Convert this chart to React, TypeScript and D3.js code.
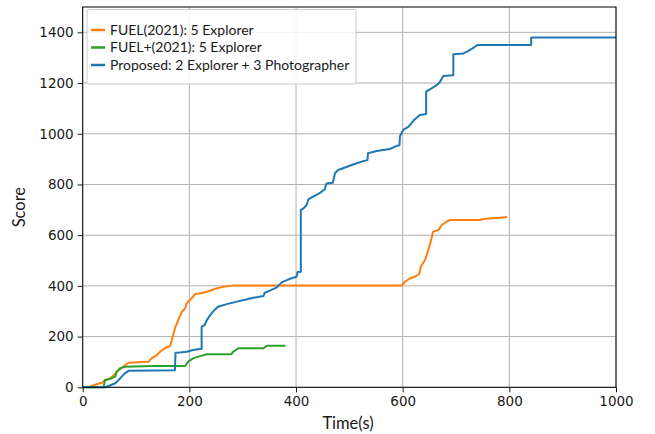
import React, { useEffect, useRef } from 'react'
import * as d3 from 'd3'

// [time(s), score]
const fuelData: [number, number][] = [
  [0, 0], [14, 3], [26, 12], [36, 18], [42, 29], [51, 35], [57, 45], [64, 62], [70, 71], [76, 81],
  [86, 97], [123, 101], [129, 114], [139, 127], [145, 140], [154, 154], [164, 163], [167, 186],
  [173, 233], [179, 265], [186, 298], [192, 311], [195, 331], [204, 351], [211, 368], [226, 373],
  [239, 381], [251, 390], [264, 397], [282, 402], [599, 402], [604, 416], [614, 430], [623, 436],
  [631, 447], [634, 476], [642, 502], [648, 541], [654, 587], [657, 614], [667, 620], [673, 640],
  [682, 653], [689, 660], [745, 660], [751, 664], [782, 669], [796, 672],
]
const fuelPlusData: [number, number][] = [
  [0, 0], [39, 0], [42, 29], [54, 35], [61, 42], [64, 62], [70, 75], [79, 81], [132, 84], [192, 84],
  [198, 101], [207, 114], [220, 123], [233, 130], [279, 130], [282, 140], [292, 154], [339, 154],
  [345, 164], [380, 164],
]
const proposedData: [number, number][] = [
  [0, 0], [42, 0], [51, 7], [61, 16], [70, 35], [79, 55], [86, 65], [173, 67], [174, 136], [182, 137],
  [195, 140], [207, 147], [223, 152], [223, 239], [229, 246], [232, 262], [239, 285], [248, 307],
  [254, 318], [270, 328], [289, 338], [304, 345], [320, 353], [339, 360], [341, 372], [354, 384],
  [364, 394], [373, 414], [383, 423], [389, 428], [401, 436], [403, 455], [409, 456], [409, 699],
  [414, 706], [420, 719], [423, 741], [432, 752], [445, 767], [454, 781], [457, 804], [469, 807],
  [473, 844], [479, 857], [492, 867], [507, 879], [526, 892], [534, 896], [535, 923], [551, 932],
  [576, 940], [589, 952], [594, 955], [595, 991], [601, 1015], [611, 1028], [620, 1051], [632, 1074],
  [644, 1078], [644, 1166], [654, 1179], [664, 1192], [670, 1205], [676, 1228], [695, 1231],
  [695, 1314], [714, 1317], [723, 1327], [731, 1337], [740, 1350], [841, 1350], [841, 1380],
  [1000, 1380],
]

const seriesNames = ['FUEL(2021): 5 Explorer', 'FUEL+(2021): 5 Explorer', 'Proposed: 2 Explorer + 3 Photographer']
const seriesColors = ['#ff7f0e', '#2ca02c', '#1f77b4']
const xTicks = [0, 200, 400, 600, 800, 1000]
const yTicks = [0, 200, 400, 600, 800, 1000, 1200, 1400]

export default function App() {
  const ref = useRef<SVGSVGElement>(null)

  useEffect(() => {
    const svg = d3.select(ref.current)
    svg.selectAll('*').remove()

    const left = 82.7, right = 616, top = 7, bottom = 387.3
    const x = d3.scaleLinear().domain([0, 1000]).range([left, right])
    const y = d3.scaleLinear().domain([0, 1500]).range([bottom, top])

    // grid
    const grid = svg.append('g')
    grid.selectAll('.gx').data(xTicks).enter().append('line')
      .attr('x1', d => x(d)).attr('x2', d => x(d))
      .attr('y1', top).attr('y2', bottom)
      .attr('stroke', '#b0b0b0').attr('stroke-width', 1)
    grid.selectAll('.gy').data(yTicks).enter().append('line')
      .attr('x1', left).attr('x2', right)
      .attr('y1', d => y(d)).attr('y2', d => y(d))
      .attr('stroke', '#b0b0b0').attr('stroke-width', 1)

    // lines
    const line = d3.line<[number, number]>().x(d => x(d[0])).y(d => y(d[1]))
    const all = [fuelData, fuelPlusData, proposedData]
    all.forEach((data, i) => {
      svg.append('path')
        .attr('d', line(data) as string)
        .attr('fill', 'none')
        .attr('stroke', seriesColors[i])
        .attr('stroke-width', 2)
        .attr('stroke-linejoin', 'round')
    })

    // frame
    svg.append('rect')
      .attr('x', left).attr('y', top)
      .attr('width', right - left).attr('height', bottom - top)
      .attr('fill', 'none').attr('stroke', '#000').attr('stroke-width', 1)

    // axes
    const xAxis = d3.axisBottom(x).tickValues(xTicks).tickSize(5).tickPadding(4).tickFormat(d3.format('d'))
    const yAxis = d3.axisLeft(y).tickValues(yTicks).tickSize(5).tickPadding(4).tickFormat(d3.format('d'))
    const gx = svg.append('g').attr('transform', `translate(0,${bottom})`).call(xAxis)
    const gy = svg.append('g').attr('transform', `translate(${left},0)`).call(yAxis)
    ;[gx, gy].forEach(g => {
      g.select('.domain').remove()
      g.selectAll('text').attr('font-family', 'DejaVu Sans').attr('font-size', 13.5).attr('fill', '#1a1a1a')
      g.selectAll('line').attr('stroke', '#1a1a1a')
    })

    // axis titles
    svg.append('text')
      .attr('x', 348).attr('y', 429)
      .attr('text-anchor', 'middle')
      .attr('font-family', 'Lato').attr('font-size', 16.5).attr('fill', '#1a1a1a')
      .text('Time(s)')
    svg.append('text')
      .attr('transform', `translate(25,${(top + bottom) / 2 + 10}) rotate(-90)`)
      .attr('text-anchor', 'middle')
      .attr('font-family', 'Lato').attr('font-size', 16.5).attr('fill', '#1a1a1a')
      .text('Score')

    // legend
    const lg = svg.append('g')
    lg.append('rect')
      .attr('x', 87).attr('y', 9.5).attr('width', 269).attr('height', 74.5)
      .attr('rx', 1.5)
      .attr('fill', '#fff').attr('fill-opacity', 0.85)
      .attr('stroke', '#ccc').attr('stroke-width', 1)
    seriesNames.forEach((name, i) => {
      const yy = 30 + i * 17.5
      lg.append('line')
        .attr('x1', 91).attr('x2', 105).attr('y1', yy).attr('y2', yy)
        .attr('stroke', seriesColors[i]).attr('stroke-width', 2.5)
      lg.append('text')
        .attr('x', 110).attr('y', yy).attr('dy', '0.35em')
        .attr('font-family', 'Lato').attr('font-size', 14).attr('fill', '#1a1a1a')
        .text(name)
    })
  }, [])

  return (
    <div style={{ position: 'absolute', left: 0, top: 0 }}>
      <svg ref={ref} width={655} height={434} style={{ display: 'block', background: '#fff' }}></svg>
    </div>
  )
}
